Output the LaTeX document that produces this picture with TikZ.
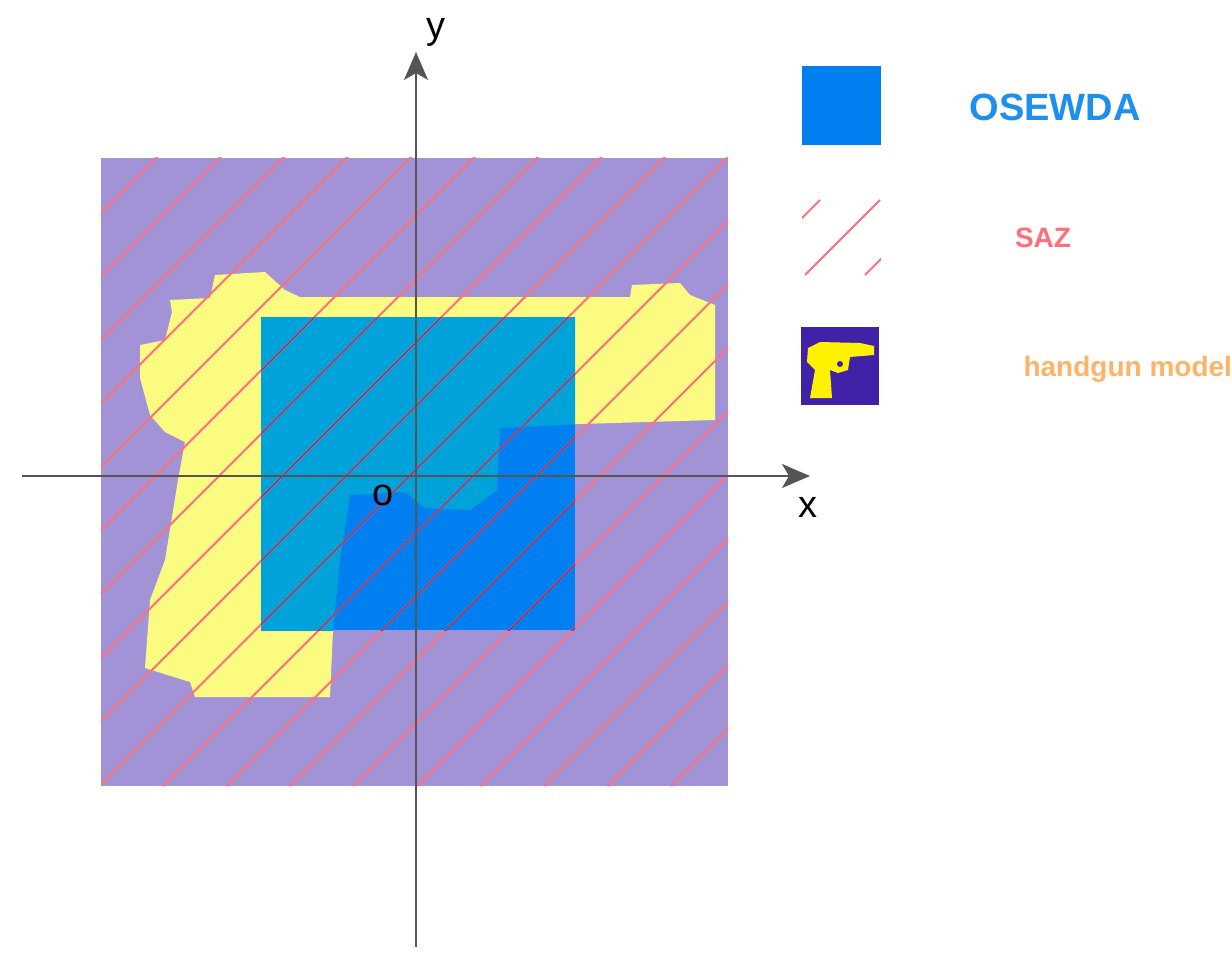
\documentclass[tikz,border=0pt]{standalone}
\usepackage{fontspec}
\setmainfont{Liberation Sans}
\usetikzlibrary{arrows.meta}
\definecolor{purp}{HTML}{A293D6}
\definecolor{gyel}{HTML}{FBFB82}
\definecolor{bdark}{HTML}{0080F0}
\definecolor{blite}{HTML}{00A2DA}
\definecolor{hred}{HTML}{FF6F7A}
\definecolor{ltxt}{HTML}{1E8FEF}
\definecolor{otxt}{HTML}{FFB366}
\definecolor{icon}{HTML}{3F22A8}
\definecolor{axc}{HTML}{555555}
\tikzset{hatch/.style={hred,line width=2pt},
 axis/.style={axc,line width=1.6pt,-{Stealth[length=28pt,width=24pt,inset=7pt]}},
 lbl/.style={font=\fontsize{28}{30}\selectfont\bfseries},
 axl/.style={font=\fontsize{38}{40}\selectfont,text=black}}
\begin{document}
\begin{tikzpicture}[x=1pt,y=-1pt]
\useasboundingbox (0,0) rectangle (1231,976);
\def\gunpath{(170,300)--(210,298)--(215,275)--(265,272)--(285,290)--(300,297)--(630,297)--(632,285)--(680,283)--(690,295)--(715,305)--(715,420)--(580,424)--(500,428)--(497,490)--(470,510)--(425,508)--(405,492)--(350,495)--(340,560)--(333,630)--(330,697)--(195,697)--(190,682)--(145,668)--(150,600)--(165,560)--(178,480)--(185,442)--(165,432)--(150,415)--(140,378)--(140,345)--(165,340)--(172,312)--cycle}
\node[fill=purp,minimum width=627pt,minimum height=628pt,inner sep=0pt,anchor=north west] (bg) at (101,158) {};
\fill[gyel] \gunpath;
\node[fill=bdark,minimum width=314pt,minimum height=313pt,inner sep=0pt,anchor=north west] (osewda) at (261,317) {};
\begin{scope}
\clip (261,317) rectangle (575,630);
\fill[blite] \gunpath;
\end{scope}
\begin{scope}
\clip (101,158) rectangle (728,786);
\foreach \k in {-12,...,12} {\draw[hatch] ({163+63.5*\k},786) -- ++(700,-700);}
\end{scope}
\begin{scope}
\clip (261,317) rectangle (575,630);
\foreach \k in {-12,...,12} {\draw[color=blue!45!black,opacity=0.5,line width=1.4pt] ({163+63.5*\k},786) -- ++(700,-700);}
\end{scope}
\coordinate (xs) at (22,476); \coordinate (xe) at (810,476);
\coordinate (ys) at (416,947); \coordinate (ye) at (416,52);
\draw[axis] (xs) -- (xe);
\draw[axis] (ys) -- (ye);
\node[axl] (ylab) at (436,32) {y};
\node[axl] (xlab) at (808,507) {x};
\node[axl] (olab) at (383,495) {o};
% legend
\node[fill=bdark,minimum size=79pt,inner sep=0pt,anchor=north west] (l1) at (802,66) {};
\node[lbl,text=ltxt,font=\fontsize{38}{40}\selectfont\bfseries] (t1) at (1055,107) {OSEWDA};
\begin{scope}
\clip (802,200) rectangle (881,278);
\foreach \k in {-1,0,1} {\draw[hatch] ({805+60*\k},275) -- ++(75,-75);}
\end{scope}
\coordinate (l2) at (841,239);
\node[lbl,text=hred] (t2) at (1043,238) {SAZ};
\node[fill=icon,minimum size=78pt,inner sep=0pt,anchor=north west] (l3) at (801,327) {};
\fill[yellow] (808,348)--(820,342)--(860,343)--(874,346)--(874,355)--(850,357)--(848,370)--(838,373)--(830,370)--(832,398)--(810,398)--(815,370)--(807,362)--cycle;
\fill[icon] (840,364) circle (3);
\node[lbl,text=otxt,anchor=west] (t3) at (1020,369) {handgun model};
\end{tikzpicture}
\end{document}
